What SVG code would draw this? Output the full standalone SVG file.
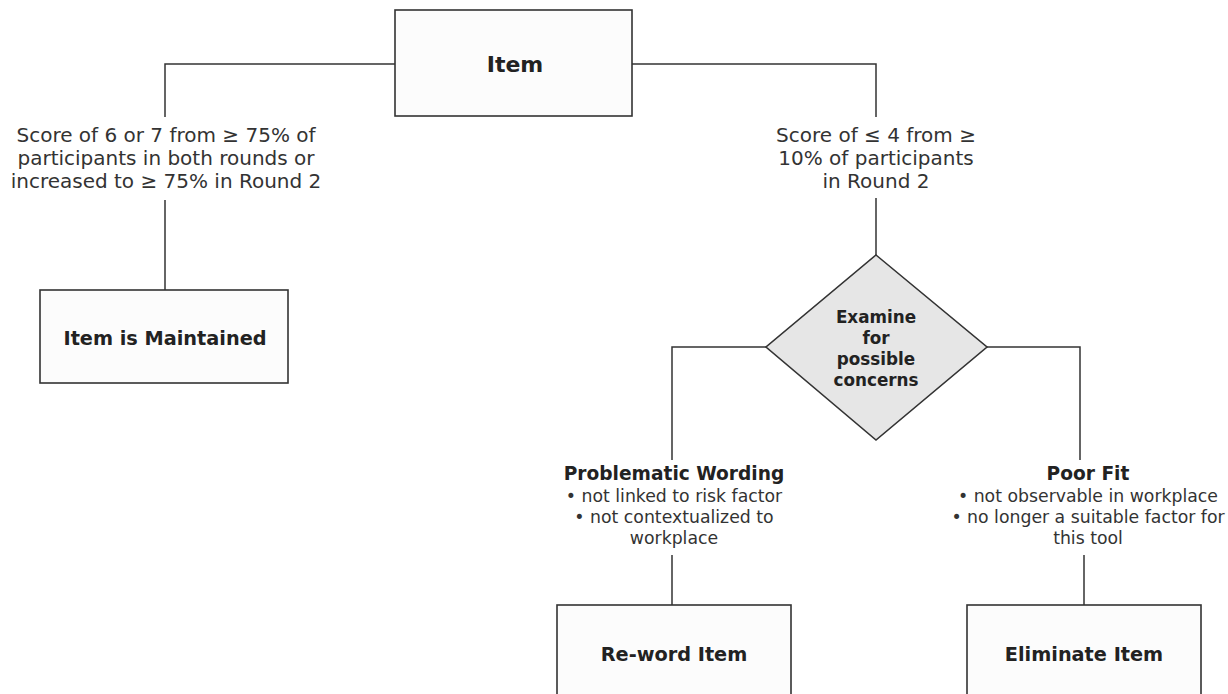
<svg xmlns="http://www.w3.org/2000/svg" width="1228" height="694" viewBox="0 0 1228 694">
<style>
.box{fill:#fcfcfc;stroke:#333;stroke-width:1.6}
.dia{fill:#e6e6e6;stroke:#333;stroke-width:1.6}
.ln{fill:none;stroke:#333;stroke-width:1.5}
.t{font-family:"DejaVu Sans",Verdana,sans-serif;fill:#333;text-anchor:middle}
.b{font-weight:bold;fill:#222}
.lab{font-size:20px}
.sm{font-size:17.3px}
</style>
<rect width="1228" height="694" fill="#fff"/>
<g id="connectors">
<polyline class="ln" points="395,64 165,64 165,117"/>
<line class="ln" x1="165" y1="200" x2="165" y2="290"/>
<polyline class="ln" points="632,64 876,64 876,117"/>
<line class="ln" x1="876" y1="198" x2="876" y2="255"/>
<polyline class="ln" points="766,347 672,347 672,460"/>
<polyline class="ln" points="986,347 1080,347 1080,460"/>
<line class="ln" x1="672" y1="555" x2="672" y2="605"/>
<line class="ln" x1="1084" y1="555" x2="1084" y2="605"/>
</g>
<g id="item">
<rect class="box" x="395" y="10" width="237" height="106"/>
<text class="t b" x="515" y="72" font-size="22">Item</text>
</g>
<g id="label-left">
<text class="t lab" x="166" y="142">Score of 6 or 7 from ≥ 75% of</text>
<text class="t lab" x="166" y="165">participants in both rounds or</text>
<text class="t lab" x="166" y="188">increased to ≥ 75% in Round 2</text>
</g>
<g id="maintained">
<rect class="box" x="40" y="290" width="248" height="93"/>
<text class="t b" x="165" y="345" font-size="19.3">Item is Maintained</text>
</g>
<g id="label-right">
<text class="t lab" x="876" y="142">Score of ≤ 4 from ≥</text>
<text class="t lab" x="876" y="165">10% of participants</text>
<text class="t lab" x="876" y="188">in Round 2</text>
</g>
<g id="examine">
<polygon class="dia" points="876,255 987,347 876,440 766,347"/>
<text class="t b" x="876" y="323" font-size="16.8">Examine</text>
<text class="t b" x="876" y="344" font-size="16.8">for</text>
<text class="t b" x="876" y="365" font-size="16.8">possible</text>
<text class="t b" x="876" y="386" font-size="16.8">concerns</text>
</g>
<g id="wording">
<text class="t b" x="674" y="480" font-size="18.6">Problematic Wording</text>
<text class="t sm" x="674" y="502">• not linked to risk factor</text>
<text class="t sm" x="674" y="523">• not contextualized to</text>
<text class="t sm" x="674" y="544">workplace</text>
</g>
<g id="poorfit">
<text class="t b" x="1088" y="480" font-size="18.6">Poor Fit</text>
<text class="t sm" x="1088" y="502">• not observable in workplace</text>
<text class="t sm" x="1088" y="523">• no longer a suitable factor for</text>
<text class="t sm" x="1088" y="544">this tool</text>
</g>
<g id="reword">
<rect class="box" x="557" y="605" width="234" height="100"/>
<text class="t b" x="674" y="661" font-size="19.3">Re-word Item</text>
</g>
<g id="eliminate">
<rect class="box" x="967" y="605" width="234" height="100"/>
<text class="t b" x="1084" y="661" font-size="19.3">Eliminate Item</text>
</g>
</svg>
